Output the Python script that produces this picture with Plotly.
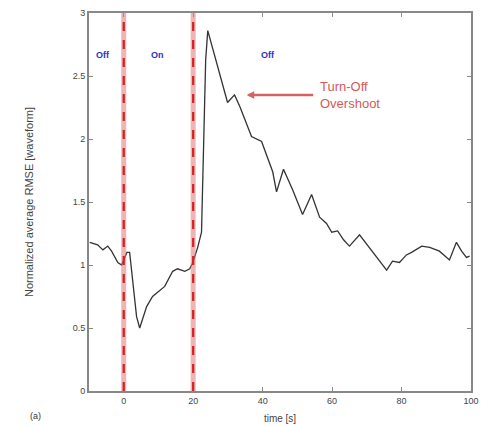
import plotly.graph_objects as go

# Normalized average RMSE over time
time_s = [-9.8, -7.5, -6.0, -4.6, -3.5, -1.7, -0.6, 0.9, 1.7, 3.7, 4.6, 6.6, 8.3, 11.8,
          14.1, 15.5, 17.6, 19.0, 19.9, 21.3, 22.4, 23.0, 23.6, 24.2, 25.3, 27.6, 29.9,
          31.9, 33.4, 36.8, 39.7, 42.9, 44.0, 46.0, 48.6, 51.5, 54.1, 56.4, 58.4, 59.9,
          61.6, 63.3, 65.0, 67.9, 69.6, 71.7, 75.7, 77.4, 79.4, 81.4, 82.9, 85.8, 88.1,
          90.9, 93.8, 95.8, 97.3, 98.7, 99.6]
rmse = [1.18, 1.16, 1.12, 1.15, 1.11, 1.02, 1.00, 1.10, 1.10, 0.59, 0.50, 0.67, 0.75, 0.83,
        0.95, 0.97, 0.95, 0.97, 1.02, 1.14, 1.26, 1.92, 2.63, 2.86, 2.75, 2.51, 2.29,
        2.35, 2.26, 2.02, 1.98, 1.74, 1.58, 1.76, 1.60, 1.40, 1.56, 1.38, 1.33, 1.26,
        1.27, 1.20, 1.15, 1.24, 1.18, 1.10, 0.96, 1.03, 1.02, 1.08, 1.10, 1.15, 1.14,
        1.11, 1.04, 1.18, 1.11, 1.06, 1.07]

switch_times = [0, 20]
phase_labels = ["Off", "On", "Off"]
phase_x = [-6.0, 9.8, 41.4]
phase_y = 2.67

x_ticks = [0, 20, 40, 60, 80, 100]
y_ticks = [0, 0.5, 1, 1.5, 2, 2.5, 3]
y_tick_text = ["0", "0.5", "1", "1.5", "2", "2.5", "3"]

fig = go.Figure()

fig.add_trace(go.Scatter(
    x=time_s, y=rmse, mode="lines",
    line=dict(color="#333333", width=1.3),
    showlegend=False, hoverinfo="skip",
))

# switching instants: pink underlay with red dashes on top
for t in switch_times:
    fig.add_shape(type="line", xref="x", yref="y", x0=t, x1=t, y0=0, y1=3,
                  line=dict(color="rgba(225,120,120,0.55)", width=5))
    fig.add_shape(type="line", xref="x", yref="y", x0=t, x1=t, y0=0, y1=3,
                  line=dict(color="#d42020", width=2.2, dash="dash"))

for lbl, px in zip(phase_labels, phase_x):
    fig.add_annotation(x=px, y=phase_y, text=f"<b>{lbl}</b>", showarrow=False,
                       font=dict(family="Liberation Sans", size=9, color="#3030c0"))

# Turn-off overshoot callout
fig.add_annotation(x=35.4, y=2.35, ax=55.0, ay=2.35, axref="x", ayref="y",
                   text="", showarrow=True, arrowhead=2, arrowsize=0.6,
                   arrowwidth=2.5, arrowcolor="#d86060")
fig.add_annotation(x=55.8, y=2.35, text="Turn-Off<br>Overshoot", showarrow=False,
                   xanchor="left", align="left",
                   font=dict(family="Liberation Sans", size=13, color="#d85858"))

fig.add_annotation(xref="paper", yref="paper", x=-0.14, y=-0.085, text="(a)",
                   showarrow=False, xanchor="center",
                   font=dict(family="Liberation Sans", size=9, color="#333333"))

axis_common = dict(showgrid=False, zeroline=False, showline=True, linecolor="#888888",
                   linewidth=2, mirror="ticks", ticks="inside", ticklen=4,
                   tickcolor="#888888", automargin=False,
                   tickfont=dict(family="Liberation Sans", size=9, color="#444444"))

fig.update_xaxes(range=[-10, 100], tickvals=x_ticks,
                 title=dict(text="time [s]", standoff=10,
                            font=dict(family="Liberation Sans", size=10, color="#444444")),
                 **axis_common)
fig.update_yaxes(range=[0, 3], tickvals=y_ticks, ticktext=y_tick_text,
                 title=dict(text="Normalized average RMSE [waveform]", standoff=37,
                            font=dict(family="Liberation Sans", size=11, color="#444444")),
                 **axis_common)

fig.update_layout(
    width=489, height=426,
    margin=dict(l=89, r=18, t=13, b=35),
    plot_bgcolor="white", paper_bgcolor="white",
)

fig.write_html("out.html")
